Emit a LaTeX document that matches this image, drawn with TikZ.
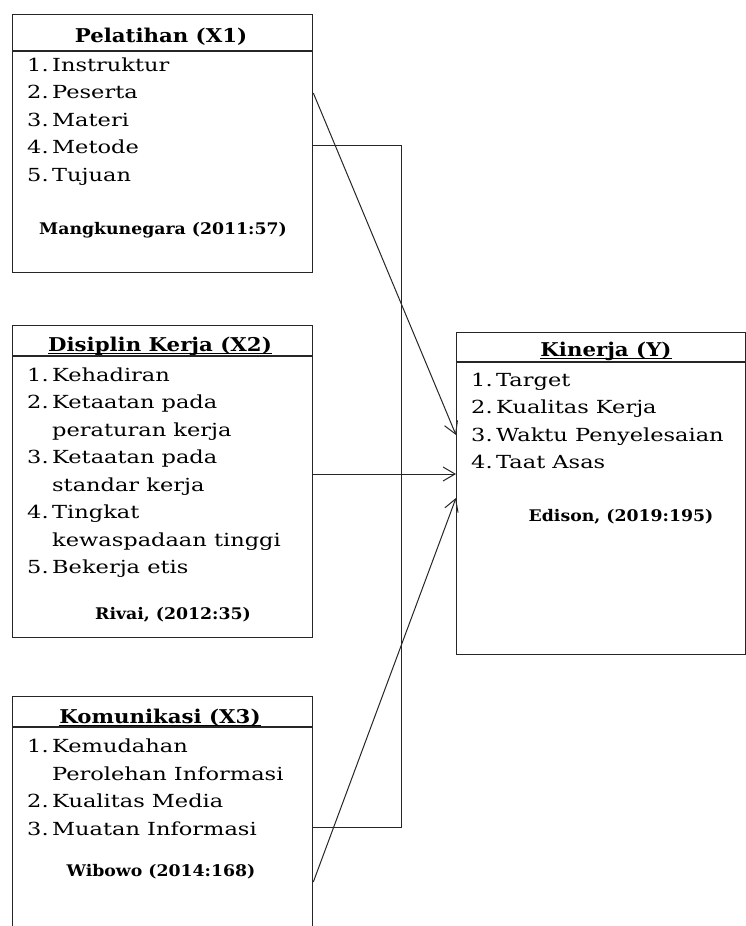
\documentclass[tikz,border=0pt]{standalone}
\usepackage{fontspec}
\setmainfont{DejaVu Serif}
\newfontfamily\itemfont{DejaVu Serif}[FakeStretch=1.25]
\newfontfamily\ttlfont{DejaVu Serif}[FakeStretch=1.12]
\newfontfamily\citefont{DejaVu Serif}[FakeStretch=1.08]
\usetikzlibrary{arrows.meta,calc}
\begin{document}
\begin{tikzpicture}[x=1pt,y=-1pt,
  frame/.style={draw=black!85, line width=1.3pt, rectangle, inner sep=0pt, anchor=north west},
  sep/.style={draw=black!85, line width=1.3pt},
  itm/.style={anchor=base west, inner sep=0pt, font=\itemfont\fontsize{18}{20}\selectfont},
  ttl/.style={anchor=base, inner sep=0pt, font=\ttlfont\fontsize{19}{22}\selectfont\bfseries},
  cite/.style={anchor=base, inner sep=0pt, font=\citefont\fontsize{16}{18}\selectfont\bfseries},
  uline/.style={draw=black, line width=1.1pt},
  conn/.style={draw=black!85, line width=1pt},
  arr/.style={conn, -{Straight Barb[length=12pt,width=14pt]}}
]
\useasboundingbox (0,0) rectangle (746,926);
\clip (0,0) rectangle (746,926);
\newcommand{\numb}[1]{\makebox[25pt][l]{#1}}

% boxes
\node[frame, minimum width=300pt, minimum height=258pt] (x1) at (12,14) {};
\node[frame, minimum width=300pt, minimum height=312pt] (x2) at (12,325) {};
\node[frame, minimum width=300pt, minimum height=260pt] (x3) at (12,696) {};
\node[frame, minimum width=289pt, minimum height=322pt] (y) at (456,332) {};

\draw[sep] (x1.west |- 0,51) -- (x1.east |- 0,51);
\draw[sep] (x2.west |- 0,356) -- (x2.east |- 0,356);
\draw[sep] (x3.west |- 0,727) -- (x3.east |- 0,727);
\draw[sep] (y.west |- 0,362) -- (y.east |- 0,362);

% X1
\node[ttl] (t1) at (161,42) {Pelatihan (X1)};
\node[itm] (a1) at (27,71) {\numb{1.}Instruktur};
\node[itm] (a2) at (27,98.5) {\numb{2.}Peserta};
\node[itm] (a3) at (27,126) {\numb{3.}Materi};
\node[itm] (a4) at (27,153.5) {\numb{4.}Metode};
\node[itm] (a5) at (27,181) {\numb{5.}Tujuan};
\node[cite] (c1) at (163,234) {Mangkunegara (2011:57)};

% X2
\node[ttl] (t2) at (160,351) {Disiplin Kerja (X2)};
\draw[uline] ($(t2.base west)+(0,2.5)$) -- ($(t2.base east)+(0,2.5)$);
\node[itm] (b1) at (27,381) {\numb{1.}Kehadiran};
\node[itm] (b2) at (27,408.5) {\numb{2.}Ketaatan pada};
\node[itm] (b2b) at (27,436) {\numb{}peraturan kerja};
\node[itm] (b3) at (27,463.5) {\numb{3.}Ketaatan pada};
\node[itm] (b3b) at (27,491) {\numb{}standar kerja};
\node[itm] (b4) at (27,518.5) {\numb{4.}Tingkat};
\node[itm] (b4b) at (27,546) {\numb{}kewaspadaan tinggi};
\node[itm] (b5) at (27,573.5) {\numb{5.}Bekerja etis};
\node[cite] (c2) at (173,619) {Rivai, (2012:35)};

% X3
\node[ttl] (t3) at (160,723) {Komunikasi (X3)};
\draw[uline] ($(t3.base west)+(0,2.5)$) -- ($(t3.base east)+(0,2.5)$);
\node[itm] (d1) at (27,752.5) {\numb{1.}Kemudahan};
\node[itm] (d1b) at (27,780) {\numb{}Perolehan Informasi};
\node[itm] (d2) at (27,807.5) {\numb{2.}Kualitas Media};
\node[itm] (d3) at (27,835) {\numb{3.}Muatan Informasi};
\node[cite] (c3) at (161,876) {Wibowo (2014:168)};

% Y
\node[ttl] (t4) at (606,356) {Kinerja (Y)};
\draw[uline] ($(t4.base west)+(0,2.5)$) -- ($(t4.base east)+(0,2.5)$);
\node[itm] (e1) at (471,386) {\numb{1.}Target};
\node[itm] (e2) at (471,413.5) {\numb{2.}Kualitas Kerja};
\node[itm] (e3) at (471,441) {\numb{3.}Waktu Penyelesaian};
\node[itm] (e4) at (471,468.5) {\numb{4.}Taat Asas};
\node[cite] (c4) at (621,521) {Edison, (2019:195)};

% connectors
\coordinate (s1) at (0,93);
\coordinate (e1t) at (0,435);
\draw[arr] (x1.east |- s1) -- (y.west |- e1t);

\coordinate (b1c) at (401,145);
\coordinate (b2c) at (401,827);
\draw[conn] (x1.east |- b1c) -- (b1c) -- (b2c) -- (x3.east |- b2c);

\coordinate (m) at (0,474);
\draw[arr] (x2.east |- m) -- (y.west |- m);

\coordinate (s4) at (0,882);
\coordinate (e4t) at (0,498);
\draw[arr] (x3.east |- s4) -- (y.west |- e4t);
\end{tikzpicture}
\end{document}
